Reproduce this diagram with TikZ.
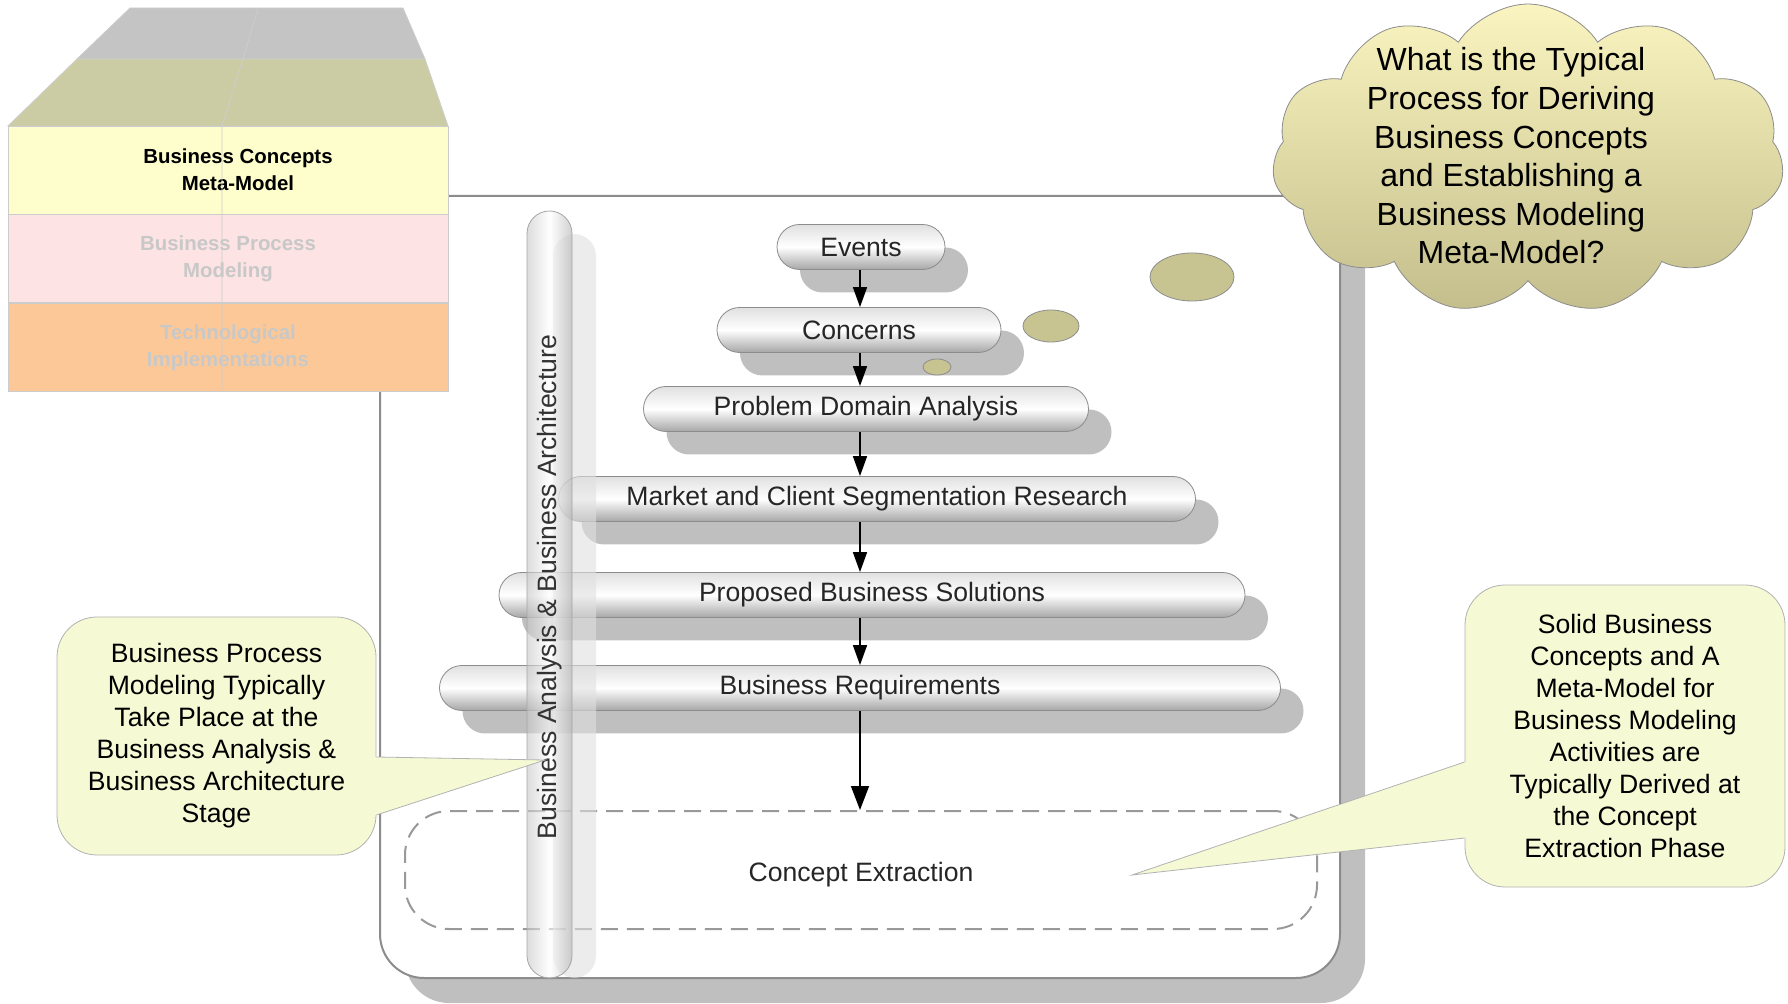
\documentclass[tikz,border=0pt]{standalone}
\usepackage{fontspec}
\setmainfont{Liberation Sans}
\usetikzlibrary{shapes.misc,shapes.symbols,shadows,arrows.meta,positioning}

\definecolor{stackgrey}{RGB}{196,196,196}
\definecolor{stackolive}{RGB}{204,204,164}
\definecolor{stackyellow}{RGB}{254,253,204}
\definecolor{stackpink}{RGB}{253,227,227}
\definecolor{stackorange}{RGB}{253,200,152}
\definecolor{fadedtext}{RGB}{200,200,200}
\definecolor{noteyellow}{RGB}{245,250,212}
\definecolor{cloudtop}{RGB}{250,244,192}
\definecolor{cloudbottom}{RGB}{196,190,140}
\definecolor{bubblefill}{RGB}{200,196,146}
\definecolor{edgegrey}{RGB}{140,140,140}

\begin{document}
\begin{tikzpicture}[x=0.5pt,y=-0.5pt,
    phase/.style={rounded rectangle, draw=edgegrey, top color=black!12, bottom color=black!35,
      middle color=white, minimum height=22.5pt, inner sep=0pt,
      font=\fontsize{13.3}{16}\selectfont, text=black!85,
      drop shadow={shadow xshift=11.5pt, shadow yshift=-11.5pt, fill=black!25, opacity=1}},
    flow/.style={-{Triangle[length=10pt,width=7pt]}, thick},
    layer/.style={draw=black!20, minimum width=220pt, minimum height=44pt, inner sep=0pt,
      align=center, font=\fontsize{10.2}{13.5}\selectfont\bfseries},
    note/.style={draw=black!30, fill=noteyellow, rounded corners=20pt, align=center,
      inner sep=0pt, font=\fontsize{13.3}{16}\selectfont},
    bubble/.style={draw=edgegrey, fill=bubblefill}]
  \useasboundingbox (0,0) rectangle (1788,1004);

  % outer frame
  \draw[draw=edgegrey, line width=1pt, fill=white, rounded corners=22pt,
    drop shadow={shadow xshift=12.5pt, shadow yshift=-12.5pt, fill=black!25, opacity=1}]
    (380,196) rectangle (1340,978);

  % layer stack
  \filldraw[fill=stackgrey, draw=black!20] (130,8) -- (403,8) -- (425,59) -- (77,59) -- cycle;
  \filldraw[fill=stackolive, draw=black!20] (77,59) -- (425,59) -- (448,126) -- (8,126) -- cycle;
  \node[layer, fill=stackyellow] (concepts) at (228,170)
    {\hspace*{10pt}Business Concepts\\\hspace*{10pt}Meta-Model};
  \node[layer, fill=stackpink, text=fadedtext, below=0pt of concepts] (process) {Business Process\\Modeling};
  \node[layer, fill=stackorange, text=fadedtext, below=0pt of process] (tech) {Technological\\Implementations};
  \draw[black!20] (258,8) -- (243,59) -- (222,126) -- (222,390);

  % concept extraction area
  \node[draw=black!40, dash pattern=on 8.5pt off 4.5pt, line width=1pt, rounded corners=22pt,
    minimum width=456pt, minimum height=59pt, text height=11.4pt, text depth=0pt,
    font=\fontsize{13.3}{16}\selectfont, text=black!85]
    (extraction) at (861,870) {Concept Extraction};

  % phases
  \coordinate (spine) at (860,0);
  \node[phase, minimum width=84pt] (events) at (861,247) {Events};
  \node[phase, minimum width=142pt] (concerns) at (859,330) {Concerns};
  \node[phase, minimum width=222.5pt] (domain) at (866,409) {Problem Domain Analysis};
  \node[phase, minimum width=318.5pt] (market) at (877,499) {Market and Client Segmentation Research};
  \node[phase, minimum width=373pt] (solutions) at (872,595) {Proposed Business Solutions};
  \node[phase, minimum width=420.5pt] (requirements) at (860,688) {Business Requirements};

  % stage bar
  \fill[black!12, fill opacity=0.6, rounded corners=11pt] (553,234) rectangle (596,978);
  \draw[draw=black!35, left color=black!22, right color=black!30, middle color=white,
    fill opacity=0.6, rounded corners=11.25pt] (527,211) rectangle (572,978);
  \node[rotate=90, font=\fontsize{13.3}{16}\selectfont, text=black!80] (bastage) at (549.5,587)
    {Business Analysis \& Business Architecture};

  \draw[flow] (events.south -| spine) -- (concerns.north -| spine);
  \draw[flow] (concerns.south -| spine) -- (domain.north -| spine);
  \draw[flow] (domain.south -| spine) -- (market.north -| spine);
  \draw[flow] (market.south -| spine) -- (solutions.north -| spine);
  \draw[flow] (solutions.south -| spine) -- (requirements.north -| spine);
  \draw[-{Triangle[length=12pt,width=9pt]}, thick] (requirements.south -| spine) -- (extraction.north -| spine);

  % thought bubbles
  \draw[bubble] (937,367) ellipse [x radius=7pt, y radius=4pt];
  \draw[bubble] (1051,326) ellipse [x radius=14pt, y radius=8pt];
  \draw[bubble] (1192,277) ellipse [x radius=21pt, y radius=12pt];
  \node[cloud, cloud puffs=11, cloud puff arc=115, aspect=1.7, draw=edgegrey,
    top color=cloudtop, bottom color=cloudbottom, minimum width=256pt, minimum height=155pt,
    inner sep=0pt] (cloudshape) at (1528,159) {};
  \node[align=center, font=\fontsize{16}{19.3}\selectfont] (question) at (1511,156)
    {What is the Typical\\Process for Deriving\\Business Concepts\\and Establishing a\\Business Modeling\\Meta-Model?};

  % callouts
  \node[note, minimum width=159.5pt, minimum height=119pt] (bpmnote) at (216.5,736)
    {Business Process\\Modeling Typically\\Take Place at the\\Business Analysis \&\\Business Architecture\\Stage};
  \coordinate (bpmtip) at (545,760);
  \fill[noteyellow] ([shift={(-3pt,-10.5pt)}]bpmnote.east) -- ([yshift=-10.5pt]bpmnote.east) -- (bpmtip)
    -- ([yshift=-39.5pt]bpmnote.east) -- ([shift={(-3pt,-39.5pt)}]bpmnote.east) -- cycle;
  \draw[black!30] ([yshift=-10.5pt]bpmnote.east) -- (bpmtip) -- ([yshift=-39.5pt]bpmnote.east);

  \node[note, minimum width=160pt, minimum height=151pt] (extractnote) at (1625,736)
    {Solid Business\\Concepts and A\\Meta-Model for\\Business Modeling\\Activities are\\Typically Derived at\\the Concept\\Extraction Phase};
  \coordinate (extracttip) at (1132,875);
  \fill[noteyellow] ([shift={(3pt,-13pt)}]extractnote.west) -- ([yshift=-13pt]extractnote.west) -- (extracttip)
    -- ([yshift=-51pt]extractnote.west) -- ([shift={(3pt,-51pt)}]extractnote.west) -- cycle;
  \draw[black!30] ([yshift=-13pt]extractnote.west) -- (extracttip) -- ([yshift=-51pt]extractnote.west);
\end{tikzpicture}
\end{document}
